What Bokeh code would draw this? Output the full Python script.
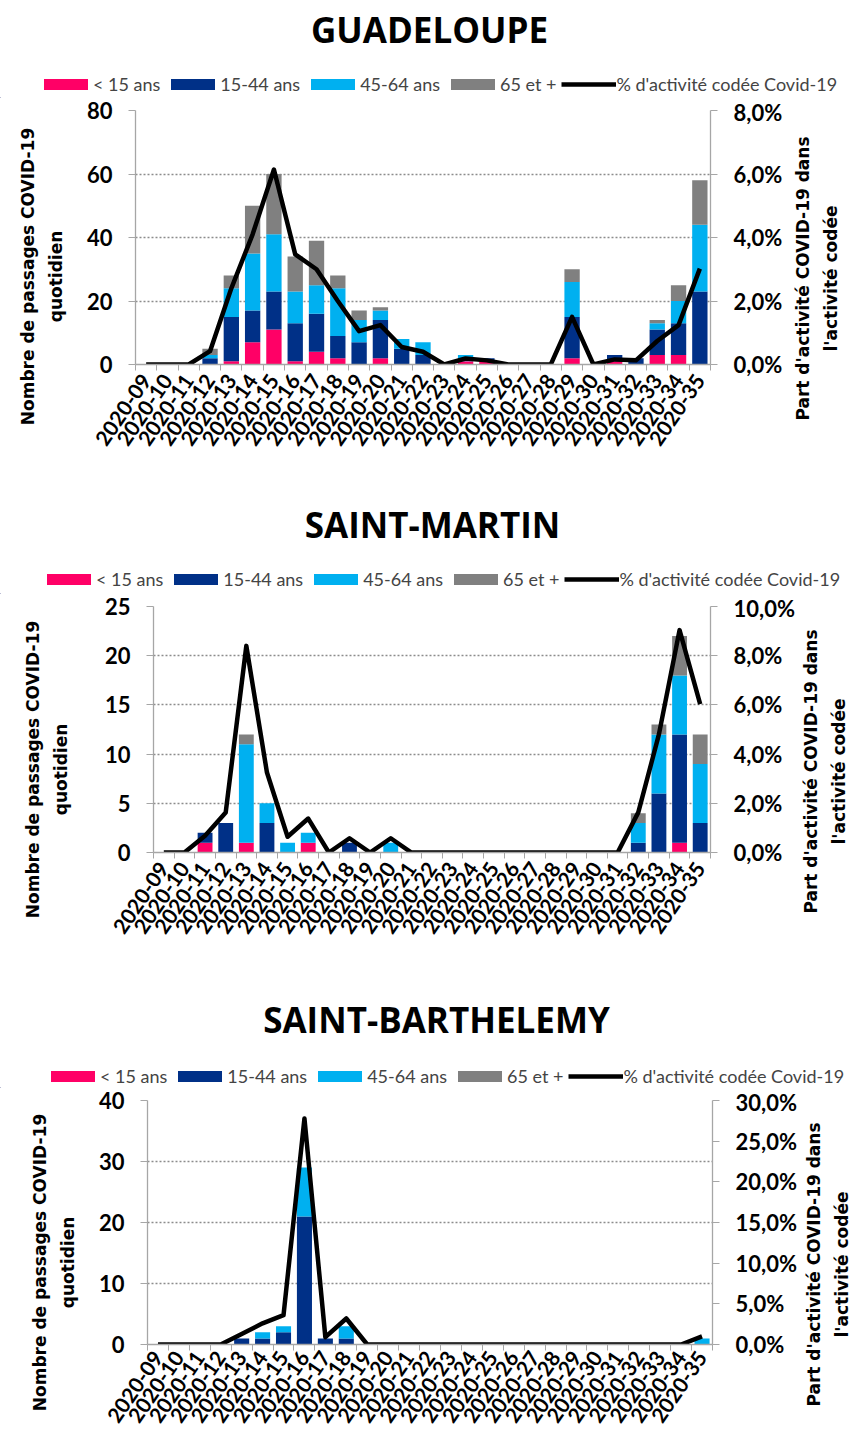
import math
from bokeh.plotting import figure
from bokeh.models import (ColumnDataSource, Range1d, LinearAxis, FixedTicker, Legend,
                          LegendItem, Label, CustomJSTickFormatter)
from bokeh.layouts import row
from bokeh.embed import file_html
from bokeh.resources import INLINE

weeks = ["2020-09", "2020-10", "2020-11", "2020-12", "2020-13", "2020-14", "2020-15",
         "2020-16", "2020-17", "2020-18", "2020-19", "2020-20", "2020-21", "2020-22",
         "2020-23", "2020-24", "2020-25", "2020-26", "2020-27", "2020-28", "2020-29",
         "2020-30", "2020-31", "2020-32", "2020-33", "2020-34", "2020-35"]

series_labels = ["< 15 ans", "15-44 ans", "45-64 ans", "65 et +"]
line_label = "% d'activité codée Covid-19"
left_title = "Nombre de passages COVID-19\nquotidien"
right_title = "Part d'activité COVID-19 dans\nl'activité codée"

# GUADELOUPE
gp_lt15  = [0, 0, 0, 0, 1, 7, 11, 1, 4, 2, 0, 2, 0, 0, 0, 1, 1, 0, 0, 0, 2, 0, 1, 0, 3, 3, 0]
gp_15_44 = [0, 0, 0, 2, 14, 10, 12, 12, 12, 7, 7, 12, 5, 3, 0, 0, 1, 0, 0, 0, 13, 0, 2, 2, 8, 10, 23]
gp_45_64 = [0, 0, 0, 1, 9, 18, 18, 10, 9, 15, 7, 3, 3, 4, 0, 2, 0, 0, 0, 0, 11, 0, 0, 0, 2, 7, 21]
gp_65    = [0, 0, 0, 2, 4, 15, 19, 11, 14, 4, 3, 1, 0, 0, 0, 0, 0, 0, 0, 0, 4, 0, 0, 0, 1, 5, 14]
gp_pct   = [0, 0, 0, 0.42, 2.4, 4.1, 6.14, 3.47, 3.0, 2.0, 1.05, 1.24, 0.55, 0.4, 0, 0.19, 0.13,
            0, 0, 0, 1.5, 0, 0.16, 0.13, 0.74, 1.24, 3.02]

# SAINT-MARTIN
sm_lt15  = [0, 0, 1, 0, 1, 0, 0, 1, 0, 0, 0, 0, 0, 0, 0, 0, 0, 0, 0, 0, 0, 0, 0, 0, 0, 1, 0]
sm_15_44 = [0, 0, 1, 3, 0, 3, 0, 0, 0, 1, 0, 0, 0, 0, 0, 0, 0, 0, 0, 0, 0, 0, 0, 1, 6, 11, 3]
sm_45_64 = [0, 0, 0, 0, 10, 2, 1, 1, 0, 0, 0, 1, 0, 0, 0, 0, 0, 0, 0, 0, 0, 0, 0, 2, 6, 6, 6]
sm_65    = [0, 0, 0, 0, 1, 0, 0, 0, 0, 0, 0, 0, 0, 0, 0, 0, 0, 0, 0, 0, 0, 0, 0, 1, 1, 4, 3]
sm_pct   = [0, 0, 0.68, 1.63, 8.4, 3.25, 0.64, 1.38, 0, 0.58, 0, 0.58, 0, 0, 0, 0, 0, 0, 0, 0,
            0, 0, 0, 1.63, 4.8, 9.04, 6.03]

# SAINT-BARTHELEMY
sb_lt15  = [0] * 27
sb_15_44 = [0, 0, 0, 0, 1, 1, 2, 21, 1, 1, 0, 0, 0, 0, 0, 0, 0, 0, 0, 0, 0, 0, 0, 0, 0, 0, 0]
sb_45_64 = [0, 0, 0, 0, 0, 1, 1, 8, 0, 2, 0, 0, 0, 0, 0, 0, 0, 0, 0, 0, 0, 0, 0, 0, 0, 0, 1]
sb_65    = [0] * 27
sb_pct   = [0, 0, 0, 0, 1.3, 2.6, 3.6, 27.8, 0.9, 3.2, 0, 0, 0, 0, 0, 0, 0, 0, 0, 0, 0, 0, 0,
            0, 0, 0, 1.0]

COLORS = ["#FF0066", "#003087", "#00B0F0", "#808080"]
AXIS_C = "#a6a6a6"
TICK_FONT = "Lato"
TITLE_FONT = "DejaVu Sans"
W = 849


def blank(width, height):
    f = figure(output_backend="svg", toolbar_location=None, frame_width=width,
               frame_height=height, x_axis_type=None, y_axis_type=None, min_border=0,
               title=None, x_range=Range1d(0, width), y_range=Range1d(0, height))
    f.outline_line_color = None
    return f


def make_header(title, hh, tx, ty, lx, ly):
    h = blank(W, hh)
    h.add_layout(Label(x=tx, y=ty, text=title, text_align="center", text_baseline="middle",
                       text_font="Open Sans", text_font_style="bold", text_font_size="35px",
                       text_color="black"))
    # legend swatch renderers, kept outside the visible range
    rs = [h.vbar(x=[-100], top=[1], width=1, fill_color=c, line_color=None) for c in COLORS]
    lr = h.line(x=[-200, -100], y=[1, 1], line_color="black", line_width=4.5)
    items = [LegendItem(label=l, renderers=[r]) for l, r in zip(series_labels, rs)]
    items.append(LegendItem(label=line_label, renderers=[lr]))
    leg = Legend(items=items, orientation="horizontal", location=(lx, ly),
                 glyph_width=55, glyph_height=14, label_text_font="Lato",
                 label_text_font_size="18px", label_standoff=0, spacing=5,
                 padding=0, margin=0, border_line_color=None,
                 background_fill_alpha=0)
    h.add_layout(leg)
    return h


def side_title(width, height, text, x, y):
    f = blank(width, height)
    f.add_layout(Label(x=x, y=y, text=text, angle=math.pi / 2, text_align="center",
                       text_baseline="middle", text_font=TITLE_FONT, text_font_style="bold",
                       text_font_size="17px", text_line_height=1.4, text_color="black"))
    return f


def style_ticks(ax):
    ax.axis_line_color = AXIS_C
    ax.axis_line_width = 1.3
    ax.major_tick_line_color = AXIS_C
    ax.major_tick_out = 7
    ax.major_tick_in = 0
    ax.minor_tick_line_color = None
    ax.major_label_text_font = TICK_FONT
    ax.major_label_text_font_style = "bold"
    ax.major_label_text_font_size = "22px"
    ax.major_label_text_color = "black"
    ax.major_label_standoff = 16


def make_chart(vals, pct, y_max, y_step, p_max, p_step, left, right, bottom,
               frame_w, frame_h, xstand=6):
    n = len(weeks)
    xs = list(range(n))
    src = ColumnDataSource(dict(x=xs, lt15=vals[0], a1544=vals[1], a4564=vals[2],
                                a65=vals[3], pct=pct))
    p = figure(output_backend="svg", toolbar_location=None, title=None,
               min_border_left=left, min_border_right=right, min_border_top=12,
               min_border_bottom=bottom, frame_width=frame_w, frame_height=frame_h,
               x_range=Range1d(-0.5, n - 0.5), y_range=Range1d(0, y_max))
    p.outline_line_color = None

    p.vbar_stack(["lt15", "a1544", "a4564", "a65"], x="x", width=0.72,
                 fill_color=COLORS, line_color=None, source=src)

    p.extra_y_ranges = {"pct": Range1d(0, p_max)}
    p.line("x", "pct", source=src, y_range_name="pct", line_color="black",
           line_width=4.5, line_join="round")

    yt = FixedTicker(ticks=list(range(0, y_max + 1, y_step)))
    ya = p.yaxis[0]
    ya.ticker = yt
    p.ygrid.ticker = yt
    style_ticks(ya)

    p.xgrid.visible = False
    p.ygrid.grid_line_color = "#8c8c8c"
    p.ygrid.grid_line_dash = "2 2"
    p.ygrid.grid_line_width = 1.4

    nt = int(round(p_max / p_step))
    ra = LinearAxis(y_range_name="pct",
                    ticker=FixedTicker(ticks=[i * p_step for i in range(nt + 1)]),
                    formatter=CustomJSTickFormatter(code="return tick.toFixed(1).replace('.', ',') + '%';"))
    style_ticks(ra)
    p.add_layout(ra, "right")

    xa = p.xaxis[0]
    xa.ticker = FixedTicker(ticks=xs, minor_ticks=[i - 0.5 for i in range(n + 1)])
    xa.major_label_overrides = {i: w for i, w in enumerate(weeks)}
    xa.major_label_orientation = 0.97
    xa.major_tick_out = 0
    xa.major_tick_in = 0
    xa.minor_tick_out = 6
    xa.minor_tick_in = 0
    xa.minor_tick_line_color = AXIS_C
    xa.axis_line_color = AXIS_C
    xa.axis_line_width = 1.3
    xa.major_label_text_font = TICK_FONT
    xa.major_label_text_font_style = "bold"
    xa.major_label_text_font_size = "21px"
    xa.major_label_text_color = "black"
    xa.major_label_standoff = xstand
    return p


# chart 1: GUADELOUPE
h1 = make_header("GUADELOUPE", 98, 429, 69, 38, 3)
p1 = make_chart([gp_lt15, gp_15_44, gp_45_64, gp_65], gp_pct, 80, 20, 8, 2,
                left=52, right=75, bottom=134, frame_w=575, frame_h=254)
l1 = side_title(83, 400, left_title, 41, 234)
r1 = side_title(W - 83 - 702, 400, right_title, 31, 232)

# chart 2: SAINT-MARTIN
h2 = make_header("SAINT-MARTIN", 96, 432, 70, 41, 4)
p2 = make_chart([sm_lt15, sm_15_44, sm_45_64, sm_65], sm_pct, 25, 5, 10, 2,
                left=60, right=81, bottom=140, frame_w=557, frame_h=246)
l2 = side_title(93, 398, left_title, 46, 235)
r2 = side_title(W - 93 - 698, 398, right_title, 27, 233)

# chart 3: SAINT-BARTHELEMY
h3 = make_header("SAINT-BARTHELEMY", 96, 436, 69, 45, 1)
p3 = make_chart([sb_lt15, sb_15_44, sb_45_64, sb_65], sb_pct, 40, 10, 30, 5,
                left=60, right=81, bottom=88, frame_w=565, frame_h=244, xstand=3)
l3 = side_title(87, 344, left_title, 53, 182)
r3 = side_title(W - 87 - 706, 344, right_title, 28, 180)

roots = [h1, row(l1, p1, r1), h2, row(l2, p2, r2), h3, row(l3, p3, r3)]
open("out.html", "w").write(file_html(roots, INLINE))
